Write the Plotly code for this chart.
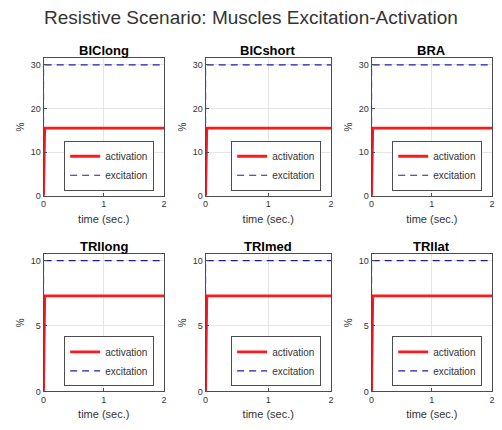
import plotly.graph_objects as go

# Muscle names per subplot (row-major, 2 x 3)
muscles = ["BIClong", "BICshort", "BRA", "TRIlong", "TRImed", "TRIlat"]

# Time samples (sec.) of the step response
time_s = [0.0, 0.02, 2.0]

# Activation / excitation levels (%) per muscle
activation = {
    "BIClong": [0.0, 15.5, 15.5],
    "BICshort": [0.0, 15.5, 15.5],
    "BRA": [0.0, 15.5, 15.5],
    "TRIlong": [0.0, 7.3, 7.3],
    "TRImed": [0.0, 7.3, 7.3],
    "TRIlat": [0.0, 7.3, 7.3],
}
excitation = {
    "BIClong": [30.0, 30.0, 30.0],
    "BICshort": [30.0, 30.0, 30.0],
    "BRA": [30.0, 30.0, 30.0],
    "TRIlong": [10.0, 10.0, 10.0],
    "TRImed": [10.0, 10.0, 10.0],
    "TRIlat": [10.0, 10.0, 10.0],
}
x_ticks = [0, 1, 2]
y_ticks_top = [0, 10, 20, 30]
y_ticks_bottom = [0, 5, 10]

W, H = 502, 430
col_px = [(41, 163), (205, 332), (373, 495)]
row_px = [(59, 198), (257, 396)]

fig = go.Figure()
font = "Liberation Sans, Arial, sans-serif"
axis_color = "#4d4d4d"
text_grey = "#333333"

annotations = [
    dict(text="Resistive Scenario: Muscles Excitation-Activation",
         x=0.5, y=1 - 18 / H, xref="paper", yref="paper", showarrow=False,
         font=dict(size=19, color="#333333", family=font), xanchor="center", yanchor="middle")
]

for i, m in enumerate(muscles):
    r, c = divmod(i, 3)
    k = i + 1
    xs = "" if k == 1 else str(k)
    x0, x1 = col_px[c]
    yt, yb = row_px[r]
    dom_x = [x0 / W, x1 / W]
    dom_y = [1 - yb / H, 1 - yt / H]
    leg = "legend" if k == 1 else f"legend{k}"

    fig.add_trace(go.Scatter(x=time_s, y=activation[m], mode="lines", name="activation",
                             line=dict(color="#ff1a1a", width=2.8),
                             xaxis="x" + xs, yaxis="y" + xs, legend=leg))
    fig.add_trace(go.Scatter(x=[0.0] + time_s, y=[0.0] + excitation[m], mode="lines", name="excitation",
                             line=dict(color="#1c1cb0", width=1.2, dash="7px,5px"),
                             xaxis="x" + xs, yaxis="y" + xs, legend=leg))

    ymax = max(excitation[m]) * 1.05
    yticks = y_ticks_top if r == 0 else y_ticks_bottom
    common = dict(showline=True, linecolor=axis_color, linewidth=1, mirror=True,
                  ticks="inside", ticklen=3, tickcolor=axis_color,
                  showgrid=True, gridcolor="#e6e6e6", gridwidth=1, zeroline=False,
                  tickfont=dict(size=9, color=text_grey, family=font))
    fig.update_layout(**{
        "xaxis" + xs: dict(domain=dom_x, range=[0, 2], tickvals=x_ticks,
                           anchor="y" + xs,
                           title=dict(text="time (sec.)", standoff=6,
                                      font=dict(size=11, color=text_grey, family=font)),
                           **common),
        "yaxis" + xs: dict(domain=dom_y, range=[0, ymax], tickvals=yticks,
                           anchor="x" + xs,
                           title=dict(text="%", standoff=4,
                                      font=dict(size=10, color=text_grey, family=font)),
                           **common),
        leg: dict(x=(x1 - 10) / W, y=1 - (yb - 5) / H, xanchor="right", yanchor="bottom",
                  bgcolor="white", bordercolor=axis_color, borderwidth=1,
                  font=dict(size=10, color=text_grey, family=font),
                  tracegroupgap=0, itemwidth=30),
    })
    annotations.append(dict(text=f"<b>{m}</b>", x=(x0 + x1) / 2 / W, y=1 - (yt - 8) / H,
                            xref="paper", yref="paper", showarrow=False,
                            font=dict(size=13, color="#000000", family=font),
                            xanchor="center", yanchor="middle"))

fig.update_layout(width=W, height=H, margin=dict(l=0, r=0, t=0, b=0),
                  plot_bgcolor="white", paper_bgcolor="white",
                  annotations=annotations, showlegend=True)

fig.write_html("out.html")
